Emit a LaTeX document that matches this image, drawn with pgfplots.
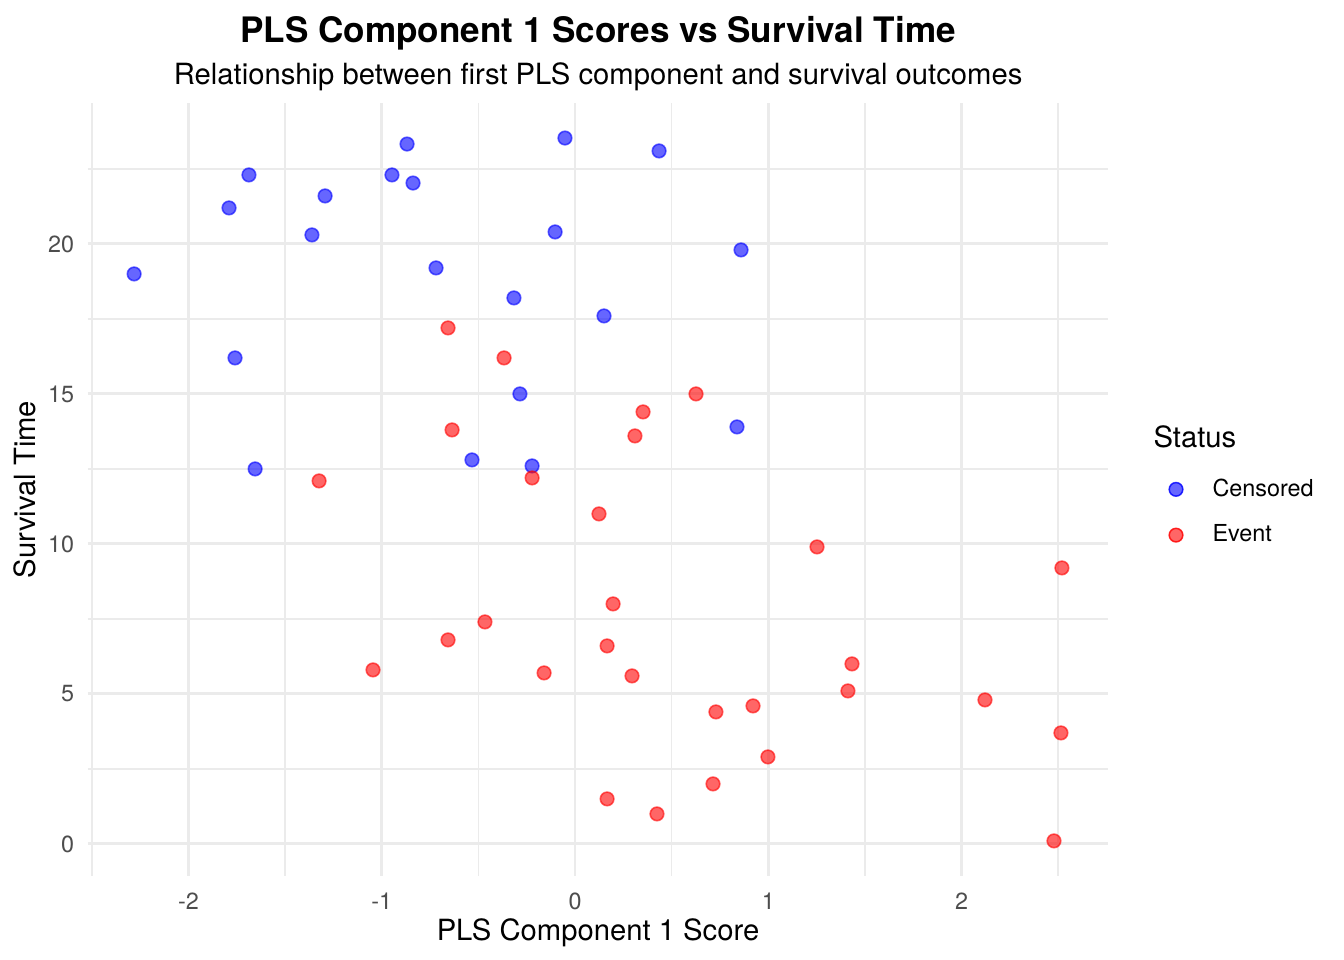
\documentclass[border=0pt]{standalone}
\usepackage{fontspec}
\setmainfont{TeX Gyre Heros}
\usepackage{pgfplots}
\usepackage{pgfplotstable}
\pgfplotsset{compat=1.18}
\definecolor{gridc}{HTML}{EBEBEB}
\definecolor{tickc}{HTML}{4D4D4D}
\pgfplotstableread{
x y
-2.281 19.0
-1.687 22.3
-1.790 21.2
-1.759 16.2
-1.655 12.5
-1.361 20.3
-1.293 21.6
-0.947 22.3
-0.869 23.33
-0.838 22.03
-0.719 19.2
-0.533 12.8
-0.316 18.2
-0.285 15.0
-0.222 12.6
-0.103 20.4
-0.052 23.53
0.150 17.6
0.435 23.1
0.859 19.8
0.838 13.9
}\censored
\pgfplotstableread{
x y
-0.657 17.2
-0.367 16.2
0.626 15.0
0.352 14.4
-0.636 13.8
0.310 13.6
-1.324 12.1
-0.222 12.2
0.124 11.0
1.252 9.9
2.519 9.2
0.197 8.0
-0.466 7.4
-0.657 6.8
0.166 6.6
-1.045 5.8
-0.160 5.7
0.295 5.6
1.433 6.0
1.412 5.1
2.121 4.8
0.921 4.6
0.729 4.4
2.514 3.7
0.998 2.9
0.714 2.0
0.166 1.5
0.424 1.0
2.478 0.1
}\event
\begin{document}
\begin{tikzpicture}
\useasboundingbox (0,0) rectangle (504bp,360bp);
\begin{axis}[
  at={(32.9bp,31.5bp)}, anchor=south west,
  scale only axis, width=382.7bp, height=289.9bp,
  xmin=-2.521, xmax=2.759, ymin=-1.07, ymax=24.70,
  axis line style={draw=none},
  major tick length=0pt, minor tick length=0pt,
  xtick={-2,-1,0,1,2}, xticklabels={-2,-1,0,1,2},
  ytick={0,5,10,15,20}, yticklabels={0,5,10,15,20},
  minor xtick={-2.5,-1.5,-0.5,0.5,1.5,2.5},
  minor ytick={2.5,7.5,12.5,17.5,22.5},
  grid=both,
  major grid style={draw=gridc, line width=1.1bp},
  minor grid style={draw=gridc, line width=0.55bp},
  tick label style={font=\fontsize{8.8}{10}\selectfont, text=tickc, inner sep=0pt},
  xticklabel style={anchor=base, yshift=-12.5bp},
  yticklabel style={anchor=east, xshift=-4.95bp},
  xlabel={PLS Component 1 Score}, ylabel={Survival Time},
  label style={font=\fontsize{11}{13}\selectfont, inner sep=0pt},
  xlabel style={at={(axis description cs:0.5,-0.0838)}, anchor=base},
  ylabel style={at={(axis description cs:-0.0507,0.5)}, anchor=base, rotate=0},
  legend style={at={(axis description cs:1,0.5)}, anchor=west, xshift=22.3bp, yshift=-8.6bp,
    draw=none, fill=none, inner sep=0pt, row sep=9.2bp,
    font=\fontsize{8.8}{10}\selectfont, nodes={inner sep=0pt}},
  legend cell align=left,
]
\addplot[only marks, mark=*, mark size=2.55bp,
  mark options={fill=blue, draw=blue, line width=0.6bp, opacity=0.6},
  legend image code/.code={\fill[blue, opacity=0.6] (0bp,0.1bp) circle (2.55bp);
     \draw[blue, opacity=0.6, line width=0.6bp] (0bp,0.1bp) circle (2.55bp);
     \path[draw=none, fill=none] (-2.9bp,0bp) -- (13.7bp,0bp);}]
  table[x=x, y=y] {\censored};
\addlegendentry{Censored}
\addplot[only marks, mark=*, mark size=2.55bp,
  mark options={fill=red, draw=red, line width=0.6bp, opacity=0.6},
  legend image code/.code={\fill[red, opacity=0.6] (0bp,0.1bp) circle (2.55bp);
     \draw[red, opacity=0.6, line width=0.6bp] (0bp,0.1bp) circle (2.55bp);
     \path[draw=none, fill=none] (-2.9bp,0bp) -- (13.7bp,0bp);}]
  table[x=x, y=y] {\event};
\addlegendentry{Event}
\end{axis}
\node[anchor=base west, inner sep=0pt, font=\fontsize{11}{13}\selectfont] at (432.4bp,192.1bp) {Status};
\node[anchor=base, inner sep=0pt, font=\fontsize{13.2}{15}\selectfont\bfseries] at (224.3bp,344bp) {PLS Component 1 Scores vs Survival Time};
\node[anchor=base, inner sep=0pt, font=\fontsize{11}{13}\selectfont] at (224.3bp,328.3bp) {Relationship between first PLS component and survival outcomes};
\end{tikzpicture}
\end{document}
